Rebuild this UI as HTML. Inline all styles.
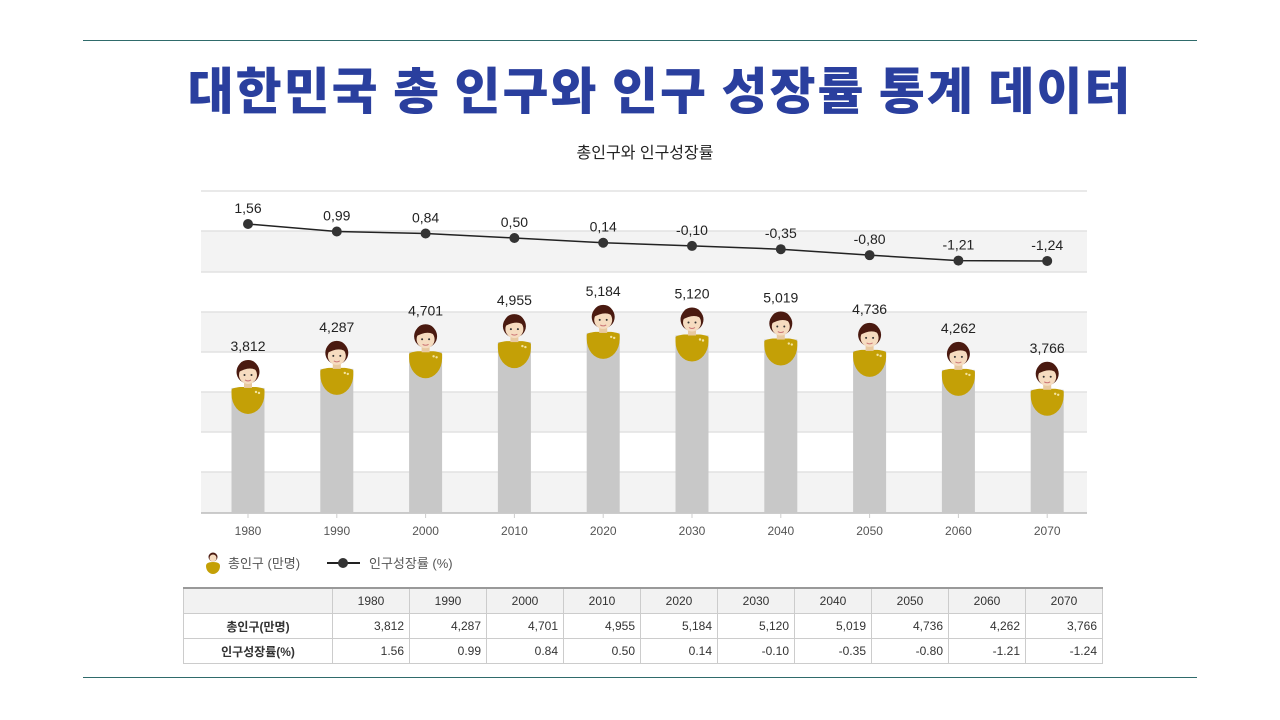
<!DOCTYPE html>
<html><head><meta charset="utf-8">
<style>
body{margin:0;width:1280px;height:720px;background:#fff;font-family:"Liberation Sans","Noto Sans CJK KR",sans-serif;overflow:hidden;position:relative}
.rule{position:absolute;left:83px;width:1114px;height:1px;background:#2f6b6b}
h1{position:absolute;top:58px;left:20px;width:1280px;margin:0;text-align:center;font-size:50px;font-weight:900;color:#2a3f9e;letter-spacing:2px;font-family:"Noto Sans CJK KR","Liberation Sans",sans-serif;line-height:60px}
table{position:absolute;left:183px;top:587px;border-collapse:collapse;font-size:12px;color:#333}
td{height:24px;border:1px solid #ccc;padding:0 5px;text-align:right;width:66px}
tr.h td{background:#f2f2f2;text-align:center;border-top:2px solid #999}
td.f{width:138px;text-align:center;font-weight:bold}
</style></head><body>
<div class="rule" style="top:40px"></div>
<div class="rule" style="top:677px"></div>
<h1>대한민국 총 인구와 인구 성장률 통계 데이터</h1>
<svg id="chart" width="1280" height="580" style="position:absolute;left:0;top:0"></svg>
<table>
<tr class="h"><td class="f"></td><td>1980</td><td>1990</td><td>2000</td><td>2010</td><td>2020</td><td>2030</td><td>2040</td><td>2050</td><td>2060</td><td>2070</td></tr>
<tr><td class="f">총인구(만명)</td><td>3,812</td><td>4,287</td><td>4,701</td><td>4,955</td><td>5,184</td><td>5,120</td><td>5,019</td><td>4,736</td><td>4,262</td><td>3,766</td></tr>
<tr><td class="f">인구성장률(%)</td><td>1.56</td><td>0.99</td><td>0.84</td><td>0.50</td><td>0.14</td><td>-0.10</td><td>-0.35</td><td>-0.80</td><td>-1.21</td><td>-1.24</td></tr>
</table>
<script>
const years=["1980","1990","2000","2010","2020","2030","2040","2050","2060","2070"];
const population=[3812,4287,4701,4955,5184,5120,5019,4736,4262,3766];
const growth=[1.56,0.99,0.84,0.50,0.14,-0.10,-0.35,-0.80,-1.21,-1.24];
const popLabels=["3,812","4,287","4,701","4,955","5,184","5,120","5,019","4,736","4,262","3,766"];
const growthLabels=["1,56","0,99","0,84","0,50","0,14","-0,10","-0,35","-0,80","-1,21","-1,24"];
const svg=document.getElementById('chart');
const NS='http://www.w3.org/2000/svg';
function mk(t,a,p){const e=document.createElementNS(NS,t);for(const k in a)e.setAttribute(k,a[k]);(p||svg).appendChild(e);return e;}
const X0=201,X1=1087,step=88.8;
const xPos=i=>248+step*i;
const yPop=v=>540.8-v*0.0401;
const yGr=v=>224+(1.56-v)*13.2;
let t=mk('text',{x:645,y:158,'text-anchor':'middle','font-size':16,fill:'#222'});t.textContent='총인구와 인구성장률';


[[231,272],[312,352],[392,432],[472,513]].forEach(b=>{mk('rect',{x:X0,y:b[0],width:X1-X0,height:b[1]-b[0],fill:'#f3f3f3'});});
[191,231,272,312,352,392,432,472].forEach(y=>{mk('line',{x1:X0,x2:X1,y1:y,y2:y,stroke:'#e2e2e2','stroke-width':1.5});});
mk('line',{x1:X0,x2:X1,y1:513,y2:513,stroke:'#bbb','stroke-width':1.5});
years.forEach((yr,i)=>{
  const x=xPos(i);
  mk('line',{x1:x,x2:x,y1:513,y2:518,stroke:'#ccc'});
  const l=mk('text',{x:x,y:535,'text-anchor':'middle','font-size':12,fill:'#555'});l.textContent=yr;
  
  
  const top=yPop(population[i]);
  const g=mk('g',{});
  
  
  mk('rect',{x:x-16.5,y:top,width:33,height:513-top,fill:'#c8c8c8'},g);
  mk('path',{d:`M${x-16.5},${top+2} Q${x-16.5},${top} ${x-8},${top-1} L${x+8},${top-1} Q${x+16.5},${top} ${x+16.5},${top+2} L${x+16.5},${top+6} A16.5,20 0 0 1 ${x-16.5},${top+6} Z`,fill:'#c4a006'},g);
  mk('circle',{cx:x+8,cy:top+4,r:1.2,fill:'#f3e3a0'},g);mk('circle',{cx:x+11,cy:top+5,r:1.2,fill:'#f3e3a0'},g);
  mk('rect',{x:x-4,y:top-6,width:8,height:6,fill:'#e8c9a0'},g);
  mk('circle',{cx:x,cy:top-16,r:11.5,fill:'#4a1a10'},g);
  mk('ellipse',{cx:x,cy:top-13,rx:9,ry:9,fill:'#f6dcc0'},g);
  mk('path',{d:`M${x-11},${top-15} Q${x-10},${top-28} ${x},${top-28} Q${x+10},${top-28} ${x+11},${top-15} Q${x+4},${top-24} ${x-11},${top-15} Z`,fill:'#4a1a10'},g);
  mk('circle',{cx:x-3.5,cy:top-13,r:1,fill:'#333'},g);mk('circle',{cx:x+3.5,cy:top-13,r:1,fill:'#333'},g);
  mk('path',{d:`M${x-3},${top-8} Q${x},${top-6} ${x+3},${top-8}`,stroke:'#c77',fill:'none','stroke-width':1},g);
  const v=mk('text',{x:x,y:top-37,'text-anchor':'middle','font-size':14,fill:'#222'});v.textContent=popLabels[i];
  
  
});
let d='';growth.forEach((v,i)=>{d+=(i?'L':'M')+xPos(i)+','+yGr(v);});
const ln=mk('path',{d:d,stroke:'#222',fill:'none','stroke-width':1.5});


growth.forEach((v,i)=>{
  const c=mk('circle',{cx:xPos(i),cy:yGr(v),r:5,fill:'#333'});
  
  
  const l=mk('text',{x:xPos(i),y:yGr(v)-11,'text-anchor':'middle','font-size':14,fill:'#222'});l.textContent=growthLabels[i];
  
  
});
const lg=mk('g',{});


mk('path',{d:'M206,566 Q206,562 213,562 Q220,562 220,566 A7,8 0 0 1 206,566Z',fill:'#c4a006'},lg);
mk('circle',{cx:213,cy:557,r:4.5,fill:'#4a1a10'},lg);mk('circle',{cx:213,cy:558,r:3.5,fill:'#f6dcc0'},lg);
let a=mk('text',{x:228,y:568,'font-size':13,fill:'#555'},lg);a.textContent='총인구 (만명)';
mk('line',{x1:327,x2:360,y1:563,y2:563,stroke:'#222','stroke-width':2},lg);mk('circle',{cx:343,cy:563,r:5,fill:'#333'},lg);
a=mk('text',{x:369,y:568,'font-size':13,fill:'#555'},lg);a.textContent='인구성장률 (%)';
</script>
</body></html>
